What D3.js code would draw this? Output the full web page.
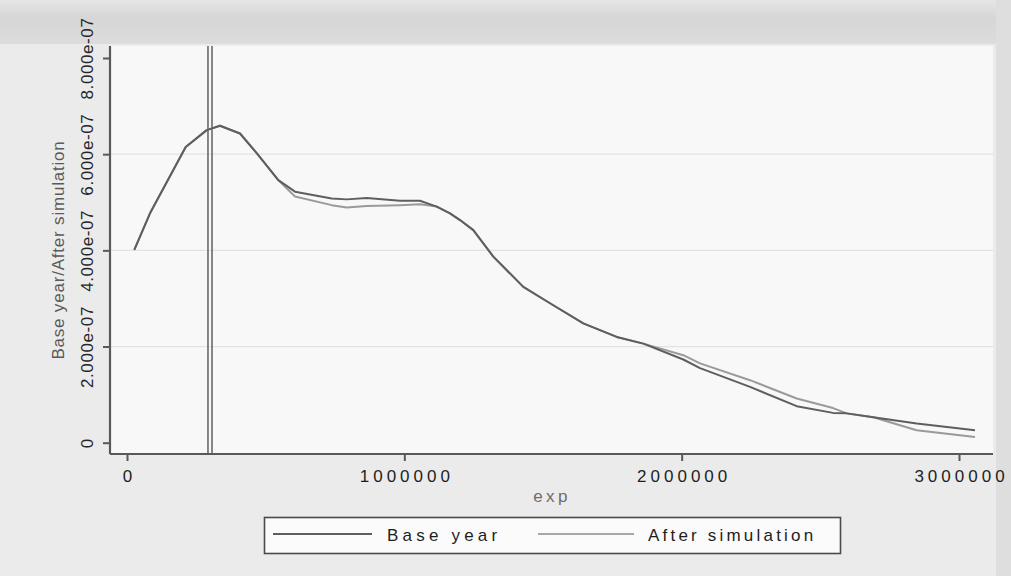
<!DOCTYPE html>
<html>
<head>
<meta charset="utf-8">
<script src="https://cdn.jsdelivr.net/npm/d3@7"></script>
<style>
  html, body { margin: 0; padding: 0; background: #e9e9e9; }
  svg { display: block; font-family: "Liberation Sans", Arial, sans-serif; }
</style>
</head>
<body>
<svg id="chart" width="1011" height="576"></svg>
<script>
// ---- data (density values in units of 1e-7) ----
const expValues = [26300, 82900, 211700, 287400, 335300, 407500, 467700, 545600, 605800, 738100,
  792200, 864300, 984400, 1056500, 1116700, 1164700, 1200700, 1248700, 1320800, 1429000,
  1525300, 1645300, 1765800, 1861700, 2005900, 2066100, 2246500, 2414800, 2545700, 2595100,
  2691000, 2847500, 3057700];
const baseYear = [4.01, 4.77, 6.15, 6.50, 6.59, 6.43, 6.02, 5.46, 5.22, 5.08,
  5.06, 5.09, 5.03, 5.03, 4.91, 4.77, 4.63, 4.42, 3.87, 3.24,
  2.90, 2.48, 2.20, 2.06, 1.73, 1.55, 1.16, 0.76, 0.62, 0.61,
  0.53, 0.40, 0.26];
const afterSimulation = [4.01, 4.77, 6.15, 6.50, 6.59, 6.43, 6.02, 5.46, 5.12, 4.94,
  4.89, 4.92, 4.94, 4.96, 4.91, 4.77, 4.63, 4.42, 3.87, 3.24,
  2.90, 2.48, 2.20, 2.06, 1.82, 1.65, 1.30, 0.92, 0.72, 0.61,
  0.53, 0.26, 0.12];
const povertyLines = [292000, 306500];
const xTicks = [0, 1000000, 2000000, 3000000];
const yTicks = [0, 2e-7, 4e-7, 6e-7, 8e-7];
const yTickLabels = ["0", "2.000e-07", "4.000e-07", "6.000e-07", "8.000e-07"];
const seriesNames = ["Base year", "After simulation"];
const xTitle = "exp";
const yTitle = "Base year/After simulation";

// ---- layout ----
const svg = d3.select("#chart");
const plot = { left: 110, right: 993, top: 46, bottom: 454 };
const x = d3.scaleLinear().domain([0, 3000000]).range([127, 959]);
const y = d3.scaleLinear().domain([0, 8e-7]).range([442.7, 58]);

// scan-like backdrop
const defs = svg.append("defs");
const g1 = defs.append("linearGradient").attr("id", "topband").attr("x1", 0).attr("x2", 0).attr("y1", 0).attr("y2", 1);
g1.append("stop").attr("offset", "0%").attr("stop-color", "#e6e6e6");
g1.append("stop").attr("offset", "40%").attr("stop-color", "#d6d6d6");
g1.append("stop").attr("offset", "100%").attr("stop-color", "#dcdcdc");
svg.append("rect").attr("x", 0).attr("y", 0).attr("width", 1011).attr("height", 576).attr("fill", "#ebebeb");
svg.append("rect").attr("x", 0).attr("y", 0).attr("width", 1011).attr("height", 44).attr("fill", "url(#topband)");
svg.append("rect").attr("x", 996).attr("y", 0).attr("width", 15).attr("height", 576).attr("fill", "#dedede");
svg.append("rect").attr("x", plot.left).attr("y", plot.top)
  .attr("width", plot.right - plot.left).attr("height", plot.bottom - plot.top).attr("fill", "#f8f8f8");

// gridlines
svg.append("g").selectAll("line").data(yTicks.slice(1, 4)).join("line")
  .attr("x1", plot.left).attr("x2", plot.right)
  .attr("y1", d => y(d)).attr("y2", d => y(d))
  .attr("stroke", "#e2e2e2").attr("stroke-width", 1.2);

// vertical reference lines
svg.append("g").selectAll("line").data(povertyLines).join("line")
  .attr("x1", d => x(d)).attr("x2", d => x(d))
  .attr("y1", plot.top).attr("y2", plot.bottom)
  .attr("stroke", "#6a6a6a").attr("stroke-width", 1.6);

// series
const line = d3.line().x(d => x(d[0])).y(d => y(d[1] * 1e-7));
svg.append("path").datum(expValues.map((v, i) => [v, afterSimulation[i]]))
  .attr("d", line).attr("fill", "none").attr("stroke", "#9a9a9a").attr("stroke-width", 2).attr("stroke-linejoin", "round");
svg.append("path").datum(expValues.map((v, i) => [v, baseYear[i]]))
  .attr("d", line).attr("fill", "none").attr("stroke", "#5e5e5e").attr("stroke-width", 2).attr("stroke-linejoin", "round");

// axes
const axisColor = "#595959";
const yAxis = svg.append("g").attr("transform", `translate(${plot.left},0)`)
  .call(d3.axisLeft(y).tickValues(yTicks).tickSize(7).tickFormat((d, i) => yTickLabels[i]));
yAxis.select(".domain").attr("d", `M0,${plot.top}V${plot.bottom}`).attr("stroke", axisColor).attr("stroke-width", 2.2);
yAxis.selectAll(".tick line").attr("stroke", axisColor).attr("stroke-width", 2);
yAxis.selectAll(".tick text")
  .attr("transform", "rotate(-90)").attr("x", 0).attr("y", -17).attr("dy", 0)
  .attr("text-anchor", "middle").attr("fill", "#262626")
  .style("font-size", "17px").style("letter-spacing", "0.6px");

const xAxis = svg.append("g").attr("transform", `translate(0,${plot.bottom})`)
  .call(d3.axisBottom(x).tickValues(xTicks).tickSize(7).tickFormat(d3.format("d")));
xAxis.select(".domain").attr("d", `M${plot.left},0H${plot.right}`).attr("stroke", axisColor).attr("stroke-width", 2.2);
xAxis.selectAll(".tick line").attr("stroke", axisColor).attr("stroke-width", 2);
xAxis.selectAll(".tick text").attr("y", 28).attr("dy", 0).attr("dx", 2)
  .attr("fill", "#1e1e1e").style("font-size", "17px").style("letter-spacing", "4px");

// titles
svg.append("text").attr("x", 552).attr("y", 502).attr("text-anchor", "middle")
  .attr("fill", "#6e6e6e").style("font-size", "17px").style("letter-spacing", "3.3px").text(xTitle);
svg.append("text").attr("transform", "translate(64,250) rotate(-90)").attr("text-anchor", "middle")
  .attr("fill", "#5a5a5a").style("font-size", "17px").style("letter-spacing", "0.8px").text(yTitle);

// legend
const legend = svg.append("g");
legend.append("rect").attr("x", 264.5).attr("y", 517.5).attr("width", 576).attr("height", 36)
  .attr("fill", "#fbfbfb").attr("stroke", "#4a4a4a").attr("stroke-width", 1.6);
const legendItems = [
  { name: seriesNames[0], color: "#5e5e5e", x1: 273, x2: 372, tx: 387, ls: "4.2px" },
  { name: seriesNames[1], color: "#a8a8a8", x1: 538, x2: 634, tx: 648, ls: "3.2px" }
];
legendItems.forEach(it => {
  legend.append("line").attr("x1", it.x1).attr("x2", it.x2).attr("y1", 534).attr("y2", 534)
    .attr("stroke", it.color).attr("stroke-width", 2);
  legend.append("text").attr("x", it.tx).attr("y", 541).attr("fill", "#1e1e1e")
    .style("font-size", "17px").style("letter-spacing", it.ls).text(it.name);
});
</script>
</body>
</html>
